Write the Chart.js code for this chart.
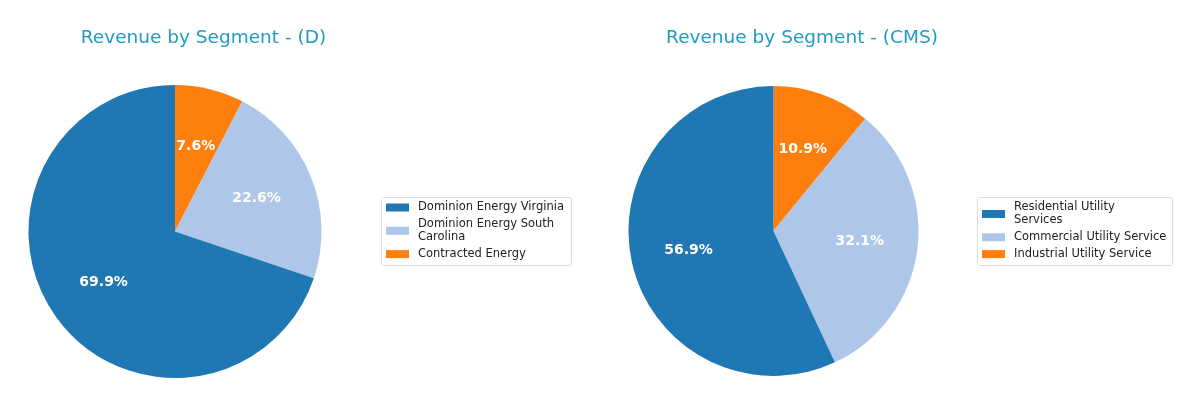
<!DOCTYPE html>
<html>
<head>
<meta charset="utf-8">
<title>Revenue by Segment</title>
<script src="https://cdn.jsdelivr.net/npm/chart.js@4"></script>
<style>
  html, body { margin: 0; padding: 0; background: #fff; }
  #wrap { position: relative; width: 1200px; height: 407px; }
  #wrap canvas { position: absolute; top: 0; }
</style>
</head>
<body>
<div id="wrap">
  <canvas id="chartD" width="600" height="407" style="left:0"></canvas>
  <canvas id="chartCMS" width="600" height="407" style="left:600px"></canvas>
</div>
<script>
// segment names and shares (percent), in legend order
const segmentsD = ['Dominion Energy Virginia', 'Dominion Energy South Carolina', 'Contracted Energy'];
const sharesD = [69.9, 22.6, 7.6];

const segmentsCMS = ['Residential Utility Services', 'Commercial Utility Service', 'Industrial Utility Service'];
const sharesCMS = [56.9, 32.1, 10.9];

const sliceColors = ['#1f77b4', '#aec7e8', '#ff7f0e'];
const FONT = '"DejaVu Sans", Verdana, sans-serif';

// wrap legend text the way textwrap would (width in chars)
function wrap(text, width = 26){
  const out = [];
  let line = '';
  text.split(' ').forEach(w => {
    if (line && (line + ' ' + w).length > width){ out.push(line); line = w; }
    else line = line ? line + ' ' + w : w;
  });
  if (line) out.push(line);
  return out;
}

// percent labels at 0.6 of the radius, matplotlib style
const pctLabels = {
  id: 'pctLabels',
  afterDatasetsDraw(chart){
    const ctx = chart.ctx;
    const meta = chart.getDatasetMeta(0);
    const data = chart.data.datasets[0].data;
    ctx.save();
    ctx.font = 'bold 14px ' + FONT;
    ctx.fillStyle = '#ffffff';
    ctx.textAlign = 'center';
    ctx.textBaseline = 'middle';
    meta.data.forEach((arc, i) => {
      const p = arc.getProps(['x', 'y', 'startAngle', 'endAngle', 'outerRadius'], true);
      const mid = (p.startAngle + p.endAngle) / 2;
      const r = p.outerRadius * 0.6;
      ctx.fillText(data[i].toFixed(1) + '%', p.x + Math.cos(mid) * r, p.y + Math.sin(mid) * r);
    });
    ctx.restore();
  }
};

// title + boxed legend drawn at fixed spots
const decor = {
  id: 'decor',
  afterDraw(chart, args, opts){
    const ctx = chart.ctx;
    ctx.save();
    ctx.font = '18.5px ' + FONT;
    ctx.fillStyle = '#1f9bc4';
    ctx.textAlign = 'center';
    ctx.textBaseline = 'middle';
    ctx.fillText(opts.title, opts.titleX, 38);

    const lg = opts.legend;
    ctx.fillStyle = 'rgba(255,255,255,0.8)';
    ctx.strokeStyle = '#dcdcdc';
    ctx.lineWidth = 1;
    ctx.beginPath();
    ctx.roundRect(lg.x + 0.5, lg.y + 0.5, lg.w, lg.h, 2);
    ctx.fill();
    ctx.stroke();

    ctx.font = '11.5px ' + FONT;
    ctx.textAlign = 'left';
    let y = lg.y + 10.5;
    opts.items.forEach((name, i) => {
      const lines = wrap(name);
      const midY = y + (lines.length - 1) * 13 / 2;
      ctx.fillStyle = opts.colors[i];
      ctx.fillRect(lg.x + 5, midY - 4, 23, 8);
      ctx.fillStyle = '#222';
      lines.forEach((ln, j) => ctx.fillText(ln, lg.x + 37, y + j * 13));
      y += (lines.length - 1) * 13 + 16.8;
    });
    ctx.restore();
  }
};

function makePie(id, segments, shares, pad, title, titleX, legend){
  // Chart.js sweeps clockwise, matplotlib counter-clockwise: feed slices reversed
  const labels = segments.slice().reverse();
  const data = shares.slice().reverse();
  const colors = sliceColors.slice(0, segments.length).reverse();
  return new Chart(document.getElementById(id), {
    type: 'pie',
    data: {
      labels,
      datasets: [{ data, backgroundColor: colors, borderWidth: 0, hoverOffset: 0, offset: 0 }]
    },
    options: {
      responsive: false,
      animation: false,
      events: [],
      rotation: 0,
      layout: { padding: pad },
      plugins: {
        legend: { display: false },
        tooltip: { enabled: false },
        decor: { title, titleX, legend, items: segments, colors: sliceColors }
      }
    },
    plugins: [pctLabels, decor]
  });
}

makePie('chartD', segmentsD, sharesD,
  { left: 28.5, right: 278.5, top: 85, bottom: 29 },
  'Revenue by Segment - (D)', 203.5,
  { x: 381, y: 197, w: 190, h: 68 });

makePie('chartCMS', segmentsCMS, sharesCMS,
  { left: 28.5, right: 281.5, top: 86, bottom: 31 },
  'Revenue by Segment - (CMS)', 202,
  { x: 377, y: 197, w: 195, h: 68 });
</script>
</body>
</html>
